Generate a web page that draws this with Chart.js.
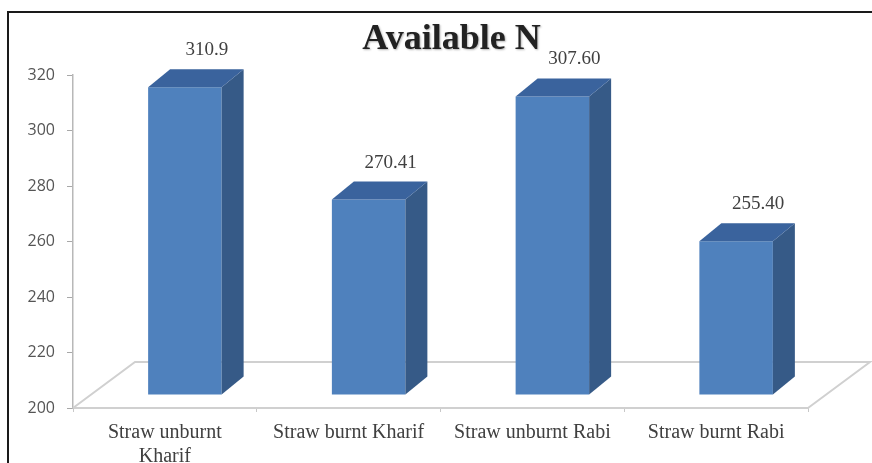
<!DOCTYPE html>
<html>
<head>
<meta charset="utf-8">
<title>Available N</title>
<script src="https://cdn.jsdelivr.net/npm/chart.js@4.4.0/dist/chart.umd.min.js"></script>
<style>
  html, body { margin: 0; padding: 0; background: #fff; }
</style>
</head>
<body>
<canvas id="nChart" width="872" height="463"></canvas>
<script>
// 処理区ごとの可給態窒素
const categories = [['Straw unburnt', 'Kharif'], 'Straw burnt Kharif', 'Straw unburnt Rabi', 'Straw burnt Rabi'];
const nValues = [310.9, 270.41, 307.60, 255.40];
const valueDecimals = [1, 2, 2, 2];
const yTicks = [200, 220, 240, 260, 280, 300, 320];

// 立体表示用の奥行き
const floorDepth = { x: 62, y: -46 };
const barDepth = { x: 22, y: -18 };
const barShift = { x: 20, y: -13 };

const serif = '"Liberation Serif", "Times New Roman", serif';

// 床・棒の側面と上面・値ラベルを描く
const box3d = {
    id: 'box3d',
    beforeDraw(chart) {
        const ctx = chart.ctx;
        ctx.save();
        ctx.fillStyle = '#ffffff';
        ctx.fillRect(0, 0, chart.width, chart.height);
        ctx.strokeStyle = '#1a1a1a';
        ctx.lineWidth = 2;
        ctx.beginPath();
        ctx.moveTo(8, chart.height);
        ctx.lineTo(8, 12);
        ctx.lineTo(chart.width, 12);
        ctx.stroke();
        ctx.restore();
    },
    beforeDatasetsDraw(chart) {
        const ctx = chart.ctx;
        const { left, right, bottom } = chart.chartArea;
        ctx.save();
        ctx.strokeStyle = '#d0d0d0';
        ctx.lineWidth = 2;
        ctx.beginPath();
        ctx.moveTo(left, bottom);
        ctx.lineTo(left + floorDepth.x, bottom + floorDepth.y);
        ctx.lineTo(right + floorDepth.x, bottom + floorDepth.y);
        ctx.lineTo(right, bottom);
        ctx.stroke();
        ctx.restore();
        // 棒は床の中ほどに置く
        ctx.save();
        ctx.translate(barShift.x, barShift.y);
    },
    afterDatasetsDraw(chart) {
        const ctx = chart.ctx;
        const meta = chart.getDatasetMeta(0);
        meta.data.forEach((bar, i) => {
            const L = bar.x - bar.width / 2;
            const R = bar.x + bar.width / 2;
            const T = bar.y;
            const B = bar.base;
            // 側面
            ctx.fillStyle = '#365a87';
            ctx.beginPath();
            ctx.moveTo(R, T);
            ctx.lineTo(R + barDepth.x, T + barDepth.y);
            ctx.lineTo(R + barDepth.x, B + barDepth.y);
            ctx.lineTo(R, B);
            ctx.closePath();
            ctx.fill();
            // 上面
            ctx.fillStyle = '#3a639d';
            ctx.beginPath();
            ctx.moveTo(L, T);
            ctx.lineTo(L + barDepth.x, T + barDepth.y);
            ctx.lineTo(R + barDepth.x, T + barDepth.y);
            ctx.lineTo(R, T);
            ctx.closePath();
            ctx.fill();
            // 値ラベル
            ctx.fillStyle = '#404040';
            ctx.font = '19px ' + serif;
            ctx.textAlign = 'center';
            ctx.textBaseline = 'middle';
            ctx.fillText(nValues[i].toFixed(valueDecimals[i]), bar.x + barDepth.x, T + barDepth.y - 19);
        });
        ctx.restore();
    },
    afterDraw(chart) {
        const ctx = chart.ctx;
        const { left, right } = chart.chartArea;
        ctx.save();
        ctx.font = 'bold 36px ' + serif;
        ctx.fillStyle = '#222222';
        ctx.textAlign = 'center';
        ctx.textBaseline = 'alphabetic';
        ctx.shadowColor = 'rgba(0, 0, 0, 0.3)';
        ctx.shadowBlur = 2;
        ctx.shadowOffsetX = 1;
        ctx.shadowOffsetY = 1;
        ctx.fillText('Available N', (left + right) / 2 + 11, 49);
        ctx.restore();
    }
};

const nCtx = document.getElementById('nChart').getContext('2d');
const nChart = new Chart(nCtx, {
    type: 'bar',
    data: {
        labels: categories,
        datasets: [{
            data: nValues,
            base: yTicks[0],
            backgroundColor: '#4f81bd',
            borderWidth: 0,
            barPercentage: 0.4,
            categoryPercentage: 1,
            clip: false
        }]
    },
    options: {
        responsive: false,
        animation: false,
        layout: { padding: { left: 0, right: 64, top: 75, bottom: 0 } },
        plugins: {
            legend: { display: false },
            tooltip: { enabled: false },
            title: { display: false }
        },
        scales: {
            x: {
                afterFit(s) { s.height = 55; },
                ticks: {
                    padding: 9,
                    color: '#404040',
                    font: { family: serif, size: 20 },
                    maxRotation: 0,
                    autoSkip: false
                },
                grid: { drawOnChartArea: false, tickLength: 4, color: '#c8c8c8', offset: true },
                border: { color: '#d0d0d0', width: 2 }
            },
            y: {
                min: yTicks[0],
                max: yTicks[yTicks.length - 1],
                afterFit(s) { s.width = 73; },
                afterBuildTicks(s) { s.ticks = yTicks.map(v => ({ value: v })); },
                ticks: {
                    padding: 12,
                    color: '#555555',
                    font: { family: '"Open Sans", sans-serif', size: 16 }
                },
                grid: { drawOnChartArea: false, tickLength: 6, color: '#a8a8a8' },
                border: { color: '#b8b8b8', width: 1.5 }
            }
        }
    },
    plugins: [box3d]
});
</script>
</body>
</html>
